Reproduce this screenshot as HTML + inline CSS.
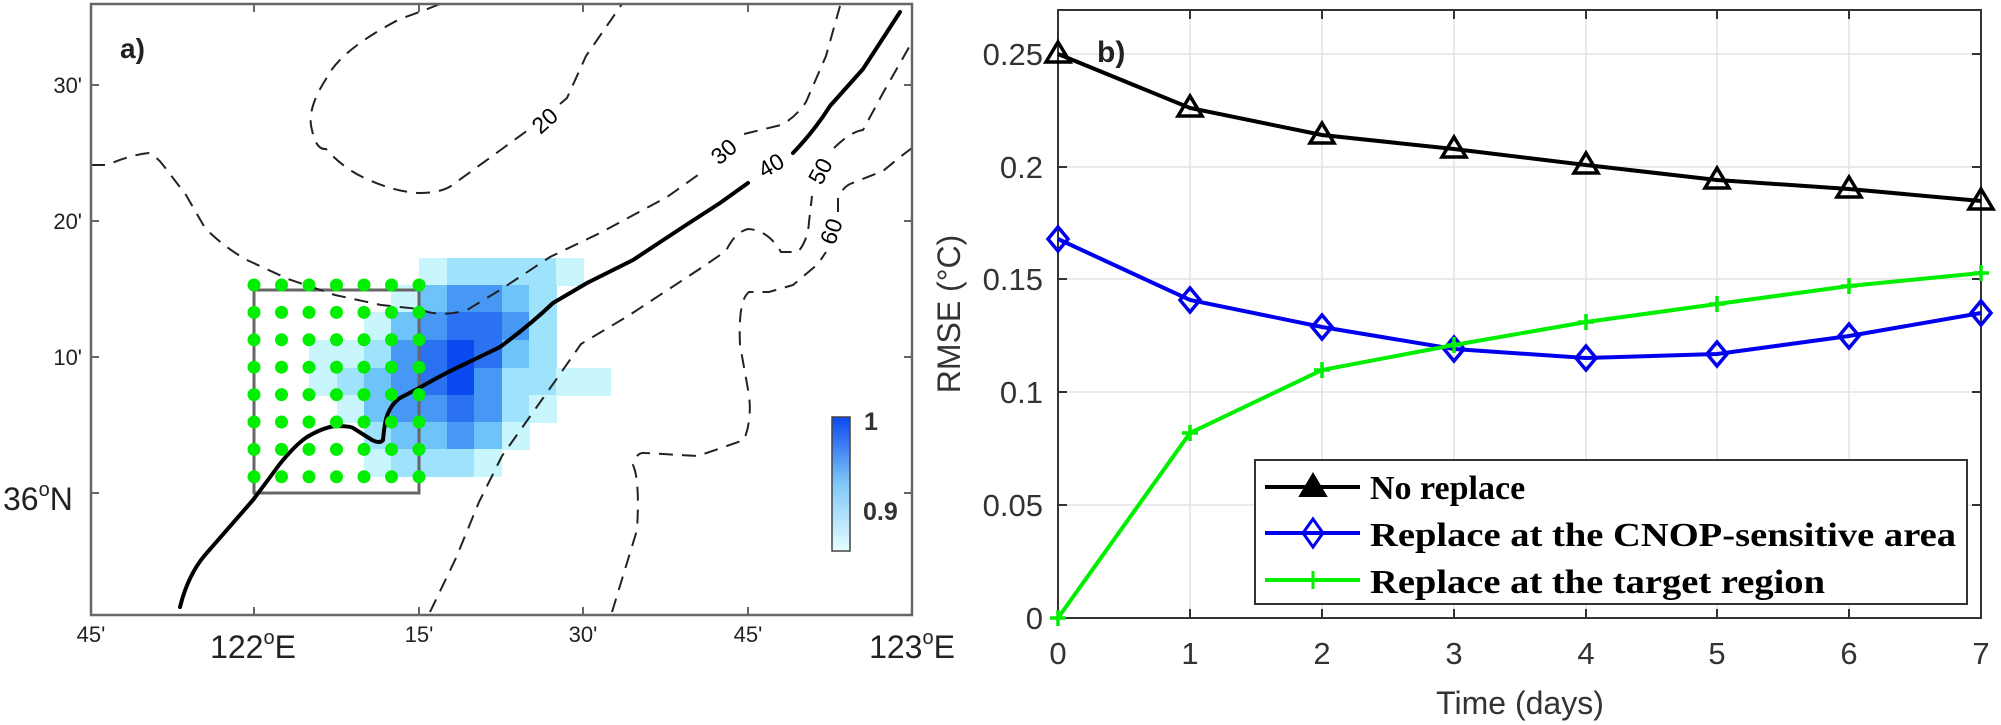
<!DOCTYPE html>
<html><head><meta charset="utf-8"><style>
html,body{margin:0;padding:0;background:#fff;}
svg{display:block;}
</style></head><body>
<svg width="2001" height="725" viewBox="0 0 2001 725" xmlns="http://www.w3.org/2000/svg" font-family="Liberation Sans,Arial,sans-serif">
<defs>
<linearGradient id="cb" x1="0" y1="1" x2="0" y2="0">
<stop offset="0" stop-color="#e6fdff"/><stop offset="0.5" stop-color="#80c8f8"/><stop offset="1" stop-color="#0a48f0"/>
</linearGradient>
</defs>
<!-- ===== Panel a ===== -->
<g id="cells">
<rect x="419" y="258" width="28" height="28" fill="#c9f5fd"/>
<rect x="447" y="258" width="110" height="28" fill="#9ee3fb"/>
<rect x="556" y="258" width="28" height="28" fill="#c9f5fd"/>
<rect x="391" y="285" width="29" height="28" fill="#c9f5fd"/>
<rect x="419" y="285" width="28" height="28" fill="#6ec4f9"/>
<rect x="447" y="285" width="55" height="28" fill="#4797f5"/>
<rect x="502" y="285" width="28" height="28" fill="#6ec4f9"/>
<rect x="529" y="285" width="28" height="28" fill="#9ee3fb"/>
<rect x="364" y="312" width="28" height="29" fill="#c9f5fd"/>
<rect x="391" y="312" width="29" height="29" fill="#6ec4f9"/>
<rect x="419" y="312" width="28" height="29" fill="#4797f5"/>
<rect x="447" y="312" width="55" height="29" fill="#2a72f2"/>
<rect x="502" y="312" width="28" height="29" fill="#4797f5"/>
<rect x="529" y="312" width="28" height="29" fill="#9ee3fb"/>
<rect x="309" y="340" width="56" height="29" fill="#c9f5fd"/>
<rect x="364" y="340" width="28" height="29" fill="#9ee3fb"/>
<rect x="391" y="340" width="29" height="29" fill="#4797f5"/>
<rect x="419" y="340" width="28" height="29" fill="#2a72f2"/>
<rect x="447" y="340" width="28" height="29" fill="#0a48f0"/>
<rect x="474" y="340" width="28" height="29" fill="#2a72f2"/>
<rect x="502" y="340" width="28" height="29" fill="#6ec4f9"/>
<rect x="529" y="340" width="28" height="29" fill="#9ee3fb"/>
<rect x="309" y="368" width="28" height="28" fill="#c9f5fd"/>
<rect x="337" y="368" width="28" height="28" fill="#9ee3fb"/>
<rect x="364" y="368" width="28" height="28" fill="#6ec4f9"/>
<rect x="391" y="368" width="29" height="28" fill="#4797f5"/>
<rect x="419" y="368" width="28" height="28" fill="#2a72f2"/>
<rect x="447" y="368" width="28" height="28" fill="#0a48f0"/>
<rect x="474" y="368" width="28" height="28" fill="#4797f5"/>
<rect x="502" y="368" width="55" height="28" fill="#9ee3fb"/>
<rect x="556" y="368" width="55" height="28" fill="#c9f5fd"/>
<rect x="337" y="395" width="28" height="28" fill="#c9f5fd"/>
<rect x="364" y="395" width="28" height="28" fill="#6ec4f9"/>
<rect x="391" y="395" width="29" height="28" fill="#4797f5"/>
<rect x="419" y="395" width="28" height="28" fill="#4797f5"/>
<rect x="447" y="395" width="28" height="28" fill="#2a72f2"/>
<rect x="474" y="395" width="28" height="28" fill="#4797f5"/>
<rect x="502" y="395" width="28" height="28" fill="#9ee3fb"/>
<rect x="529" y="395" width="28" height="28" fill="#c9f5fd"/>
<rect x="364" y="422" width="28" height="28" fill="#9ee3fb"/>
<rect x="391" y="422" width="29" height="28" fill="#6ec4f9"/>
<rect x="419" y="422" width="28" height="28" fill="#6ec4f9"/>
<rect x="447" y="422" width="28" height="28" fill="#4797f5"/>
<rect x="474" y="422" width="28" height="28" fill="#6ec4f9"/>
<rect x="502" y="422" width="28" height="28" fill="#c9f5fd"/>
<rect x="364" y="449" width="28" height="28" fill="#c9f5fd"/>
<rect x="391" y="449" width="29" height="28" fill="#9ee3fb"/>
<rect x="419" y="449" width="55" height="28" fill="#9ee3fb"/>
<rect x="474" y="449" width="28" height="28" fill="#c9f5fd"/>
</g>

<rect x="254" y="290" width="165" height="203" fill="none" stroke="#666" stroke-width="3"/>

<g fill="none" stroke="#222" stroke-width="2" stroke-dasharray="14,9">
<path d="M91,165 L107,165 Q130,155 149,153 Q158,158 163,165 L186,195 L205,228 Q225,248 247,260 L288,279 L335,295 L381,305 L419,309 Q440,318 467,310 L500,290 L550,257 L600,233 L667,197 L705,170"/>
<path d="M744,134 L781,125 Q795,118 806,102 L826,56 L840,6"/>
<path d="M440,4 Q420,12 400,19 Q340,50 326,79 Q306,110 312,130 Q316,150 326,149 Q345,170 367,179 Q395,192 419,193 Q440,193 451,186 L502,149 L528,130"/>
<path d="M560,104 L567,98 L586,56 L622,4"/>
<path d="M430,612 L456,558 L479,502 L502,456 L558,377 L581,344 L628,316 L698,270 L726,251 Q735,232 748,229 Q768,230 781,252 L798,252 Q808,240 809,222 L812,196"/>
<path d="M834,148 Q850,132 863,130 L883,93 L912,42"/>
<path d="M612,612 L637,530 Q640,480 633,465 Q636,452 645,453 L698,456 L744,440 Q752,420 749,395 L740,345 Q738,300 749,292 L769,292 L793,285 L818,264 L826,252"/>
<path d="M838,212 L838,199 Q842,188 850,184 L883,171 L900,157 L912,148"/>
</g>

<g fill="none" stroke="#000" stroke-width="4" stroke-linecap="round">
<path d="M180,607 Q188,575 205,555 L253,500 Q268,480 279,465 Q295,445 307,437 Q322,428 335,426 Q350,426 353,428 L372,440 Q380,444 383,440 Q384,428 386,419 Q390,405 400,398 L419,388 Q445,373 467,363 L500,347 Q530,325 553,303 L587,283 L633,260 L683,227 L720,203 L748,183"/>
<path d="M793,153 Q815,130 830,106 L863,69 L900,12"/>
</g>

<g fill="#00ee00">
<g id="row">
<circle cx="254" cy="285" r="6.5"/><circle cx="281.5" cy="285" r="6.5"/><circle cx="309" cy="285" r="6.5"/><circle cx="336.5" cy="285" r="6.5"/><circle cx="364" cy="285" r="6.5"/><circle cx="391.5" cy="285" r="6.5"/><circle cx="419" cy="285" r="6.5"/>
</g>
<use href="#row" y="27.4"/><use href="#row" y="54.8"/><use href="#row" y="82.2"/><use href="#row" y="109.6"/><use href="#row" y="137"/><use href="#row" y="164.4"/><use href="#row" y="191.8"/>
</g>

<g font-size="23" fill="#000">
<text transform="translate(546,122) rotate(-42)" text-anchor="middle" dominant-baseline="middle">20</text>
<text transform="translate(725,153) rotate(-40)" text-anchor="middle" dominant-baseline="middle">30</text>
<text transform="translate(772,167) rotate(-30)" text-anchor="middle" dominant-baseline="middle">40</text>
<text transform="translate(822,172) rotate(-62)" text-anchor="middle" dominant-baseline="middle">50</text>
<text transform="translate(833,232) rotate(-70)" text-anchor="middle" dominant-baseline="middle">60</text>
</g>

<rect x="832" y="417" width="18" height="134" fill="url(#cb)" stroke="#444" stroke-width="1.5"/>
<text x="864" y="430" font-size="25" font-weight="bold" fill="#333">1</text>
<text x="863" y="520" font-size="25" font-weight="bold" fill="#333">0.9</text>

<rect x="91" y="4" width="821" height="611" fill="none" stroke="#666" stroke-width="2.5"/>
<g stroke="#666" stroke-width="2">
<path d="M254,4v8M419,4v8M583,4v8M748,4v8M254,615v-8M419,615v-8M583,615v-8M748,615v-8"/>
<path d="M91,85h8M91,221h8M91,357h8M91,493h8M912,85h-8M912,221h-8M912,357h-8M912,493h-8"/>
</g>
<text x="120" y="58" font-size="28" font-weight="bold" fill="#222">a)</text>
<g font-size="22" fill="#222" text-anchor="middle">
<text x="91" y="642">45'</text><text x="419" y="642">15'</text><text x="583" y="642">30'</text><text x="748" y="642">45'</text>
</g>
<g font-size="22" fill="#222" text-anchor="end">
<text x="82" y="93">30'</text><text x="82" y="229">20'</text><text x="82" y="365">10'</text>
</g>
<g font-size="32" fill="#222">
<text x="253" y="658" text-anchor="middle">122<tspan font-size="20" dy="-14">o</tspan><tspan dy="14">E</tspan></text>
<text x="912" y="658" text-anchor="middle">123<tspan font-size="20" dy="-14">o</tspan><tspan dy="14">E</tspan></text>
<text x="3" y="510">36<tspan font-size="20" dy="-14">o</tspan><tspan dy="14">N</tspan></text>
</g>

<!-- ===== Panel b ===== -->
<g stroke="#e3e3e3" stroke-width="1.5">
<path d="M1190,10V618M1322,10V618M1454,10V618M1586,10V618M1717,10V618M1849,10V618"/>
<path d="M1058,54H1981M1058,167H1981M1058,279H1981M1058,392H1981M1058,505H1981"/>
</g>
<rect x="1058" y="10" width="923" height="608" fill="none" stroke="#333" stroke-width="2"/>
<g stroke="#333" stroke-width="2">
<path d="M1190,618v-9M1322,618v-9M1454,618v-9M1586,618v-9M1717,618v-9M1849,618v-9M1190,10v9M1322,10v9M1454,10v9M1586,10v9M1717,10v9M1849,10v9"/>
<path d="M1058,54h9M1058,167h9M1058,279h9M1058,392h9M1058,505h9M1981,54h-9M1981,167h-9M1981,279h-9M1981,392h-9M1981,505h-9"/>
</g>
<g font-size="31" fill="#333" text-anchor="end">
<text x="1043" y="65">0.25</text><text x="1043" y="178">0.2</text><text x="1043" y="290">0.15</text><text x="1043" y="403">0.1</text><text x="1043" y="516">0.05</text><text x="1043" y="629">0</text>
</g>
<g font-size="31" fill="#333" text-anchor="middle">
<text x="1058" y="664">0</text><text x="1190" y="664">1</text><text x="1322" y="664">2</text><text x="1454" y="664">3</text><text x="1586" y="664">4</text><text x="1717" y="664">5</text><text x="1849" y="664">6</text><text x="1981" y="664">7</text>
<text x="1520" y="714" font-size="32">Time (days)</text>
<text transform="translate(960,314) rotate(-90)" font-size="32">RMSE (°C)</text>
</g>
<text x="1097" y="62" font-size="30" font-weight="bold" fill="#222">b)</text>

<polyline fill="none" stroke="#000" stroke-width="4" points="1058,54 1190,108 1322,135 1454,149 1586,165 1717,180 1849,189 1981,201"/>
<g fill="none" stroke="#000" stroke-width="3.5">
<path d="M1058,42l-12,20h24z M1190,96l-12,20h24z M1322,123l-12,20h24z M1454,137l-12,20h24z M1586,153l-12,20h24z M1717,168l-12,20h24z M1849,177l-12,20h24z M1981,189l-12,20h24z"/>
</g>
<polyline fill="none" stroke="#0000ee" stroke-width="4" points="1058,239 1190,300 1322,327 1454,349 1586,358 1717,354 1849,336 1981,313"/>
<g fill="none" stroke="#0000ee" stroke-width="3.5">
<path d="M1058,227l10,12l-10,12l-10,-12z M1190,288l10,12l-10,12l-10,-12z M1322,315l10,12l-10,12l-10,-12z M1454,337l10,12l-10,12l-10,-12z M1586,346l10,12l-10,12l-10,-12z M1717,342l10,12l-10,12l-10,-12z M1849,324l10,12l-10,12l-10,-12z M1981,301l10,12l-10,12l-10,-12z"/>
</g>
<polyline fill="none" stroke="#00ee00" stroke-width="4" points="1058,618 1190,433 1322,370 1454,345 1586,322 1717,304 1849,286 1981,273"/>
<g stroke="#00ee00" stroke-width="3.5">
<path d="M1050,618h16M1058,610v16 M1182,433h16M1190,425v16 M1314,370h16M1322,362v16 M1446,345h16M1454,337v16 M1578,322h16M1586,314v16 M1709,304h16M1717,296v16 M1841,286h16M1849,278v16 M1973,273h16M1981,265v16"/>
</g>

<rect x="1255" y="460" width="712" height="144" fill="#fff" stroke="#333" stroke-width="2"/>
<path d="M1265,487h95" stroke="#000" stroke-width="4"/>
<path d="M1313,474l-13,22h26z" fill="#000" stroke="#000" stroke-width="2"/>
<path d="M1265,533h95" stroke="#0000ee" stroke-width="4"/>
<path d="M1313,519l10,14l-10,14l-10,-14z" fill="none" stroke="#0000ee" stroke-width="3"/>
<path d="M1265,580h95" stroke="#00ee00" stroke-width="4"/>
<path d="M1313,571v18" stroke="#00ee00" stroke-width="3"/>
<g style="font-family:'Liberation Serif',serif;font-weight:bold;" font-size="34" fill="#000">
<text x="1370" y="499">No replace</text>
<text x="1370" y="546" textLength="586" lengthAdjust="spacingAndGlyphs">Replace at the CNOP-sensitive area</text>
<text x="1370" y="593" textLength="455" lengthAdjust="spacingAndGlyphs">Replace at the target region</text>
</g>
</svg>
</body></html>
